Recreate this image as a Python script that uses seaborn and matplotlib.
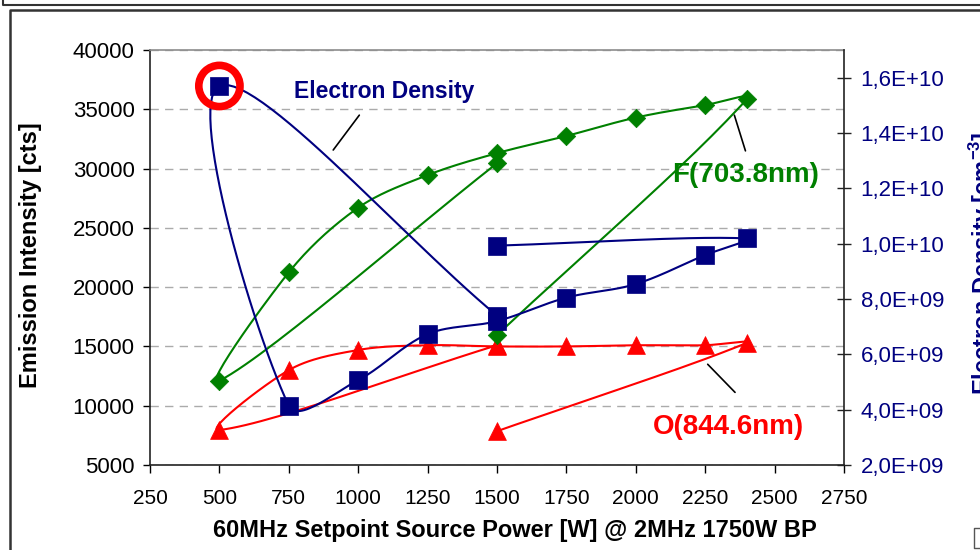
import numpy as np
import pandas as pd
import matplotlib
matplotlib.use("Agg")
import matplotlib.pyplot as plt
from matplotlib.lines import Line2D
import seaborn as sns

# ---------------- data (measurement order of the power sweep) ----------------
power = [1500, 500, 750, 1000, 1250, 1500, 1750, 2000, 2250, 2400, 1500]
f_703 = [30450, 12100, 21250, 26700, 29450, 31300, 32750, 34300, 35350, 35850, 15950]
o_844 = [15100, 7950, 13000, 14700, 15100, 15000, 15000, 15100, 15100, 15300, 7850]
e_dens = [7.4e9, 15.7e9, 4.14e9, 5.07e9, 6.73e9, 7.2e9, 8.05e9, 8.54e9, 9.59e9, 10.19e9, 9.93e9]

x_ticks = [250, 500, 750, 1000, 1250, 1500, 1750, 2000, 2250, 2500, 2750]
y_ticks = [5000, 10000, 15000, 20000, 25000, 30000, 35000, 40000]
e_ticks = [2e9, 4e9, 6e9, 8e9, 1.0e10, 1.2e10, 1.4e10, 1.6e10]

GREEN = "#008000"
RED = "#FF0000"
NAVY = "#000080"

sns.set_theme(style="white")
plt.rcParams["font.family"] = ["Liberation Sans", "DejaVu Sans"]
plt.rcParams["mathtext.fontset"] = "custom"
plt.rcParams["mathtext.rm"] = "Liberation Sans"
plt.rcParams["mathtext.bf"] = "Liberation Sans:bold"

FW, FH = 980, 550
AX_L, AX_R, AX_T, AX_B = 150, 844, 50, 465
W, H = AX_R - AX_L, AX_B - AX_T
XLIM = (250, 2750)
YLIM = (5000, 40000)
ELIM = (2e9, 1.7e10)


def smooth(xs, ys, xlim, ylim, n=30, t=1 / 3):
    """Excel-like smoothed line (chord-weighted cubic Bezier) in screen space."""
    X = (np.asarray(xs, float) - xlim[0]) / (xlim[1] - xlim[0]) * W
    Y = (np.asarray(ys, float) - ylim[0]) / (ylim[1] - ylim[0]) * H
    P = np.column_stack([X, Y])
    N = len(P)
    out = [P[0]]
    s = np.linspace(0, 1, n)[1:, None]
    for i in range(N - 1):
        p0 = P[max(i - 1, 0)]
        p1 = P[i]
        p2 = P[i + 1]
        p3 = P[min(i + 2, N - 1)]
        d01 = np.linalg.norm(p1 - p0)
        d12 = np.linalg.norm(p2 - p1)
        d23 = np.linalg.norm(p3 - p2)
        c1 = p1 + t * (p2 - p0) * (d12 / (d01 + d12) if d01 + d12 > 0 else 0)
        c2 = p2 - t * (p3 - p1) * (d12 / (d12 + d23) if d12 + d23 > 0 else 0)
        seg = ((1 - s) ** 3) * p1 + 3 * ((1 - s) ** 2) * s * c1 + 3 * (1 - s) * s ** 2 * c2 + s ** 3 * p2
        out.extend(seg)
    out = np.array(out)
    xo = out[:, 0] / W * (xlim[1] - xlim[0]) + xlim[0]
    yo = out[:, 1] / H * (ylim[1] - ylim[0]) + ylim[0]
    return xo, yo


fig = plt.figure(figsize=(FW / 100, FH / 100), dpi=100)
fig.patch.set_facecolor("white")
ax = fig.add_axes([AX_L / FW, 1 - AX_B / FH, W / FW, H / FH])
ax.set_facecolor("none")
ax2 = ax.twinx()

ax.set_xlim(*XLIM)
ax.set_ylim(*YLIM)
ax2.set_ylim(*ELIM)

# grid
ax.set_yticks(y_ticks)
ax.yaxis.grid(True, color="#ABABAB", linestyle=(0, (6, 4.5)), linewidth=1.0)
ax.set_axisbelow(True)

# smoothed lines
for yv, col, a, lim in [(f_703, GREEN, ax, YLIM), (o_844, RED, ax, YLIM)]:
    xs, ys = smooth(power, yv, XLIM, lim)
    sns.lineplot(x=xs, y=ys, sort=False, estimator=None, color=col, linewidth=1.5, ax=a, zorder=2)
xs, ys = smooth(power, e_dens, XLIM, ELIM)
sns.lineplot(x=xs, y=ys, sort=False, estimator=None, color=NAVY, linewidth=1.5, ax=ax2, zorder=2)

# markers
sns.scatterplot(x=power, y=f_703, marker="D", s=88, color=GREEN, edgecolor=GREEN, linewidth=0.5, ax=ax, zorder=4)
sns.scatterplot(x=power, y=o_844, marker="^", s=165, color=RED, edgecolor=RED, linewidth=0.5, ax=ax, zorder=3)
sns.scatterplot(x=power, y=e_dens, marker="s", s=155, color=NAVY, edgecolor=NAVY, linewidth=0.5, ax=ax2, zorder=4)

# red highlight circle around the 500 W electron-density point
ax2.scatter([power[1]], [e_dens[1]], s=880, facecolors="none", edgecolors=RED, linewidths=5.5, zorder=5)

# axes styling
ax.set_xticks(x_ticks)
ax.set_xticklabels([str(v) for v in x_ticks])
ax.set_yticklabels([str(v) for v in y_ticks])
ax2.set_yticks(e_ticks)
ax2.set_yticklabels([f"{v:.1E}".replace(".", ",") for v in e_ticks])
ax.set_xlabel("")
ax.set_ylabel("")
ax2.set_ylabel("")

ax.tick_params(axis="x", direction="out", length=6, width=1, pad=11, labelsize=15, colors="black", bottom=True)
ax.tick_params(axis="y", direction="out", length=5, width=1, pad=6, labelsize=16, colors="black", left=True)
ax2.tick_params(axis="y", direction="inout", length=10, width=1, pad=7, labelsize=16, colors="#222222",
                labelcolor=NAVY, right=True)

for a in (ax, ax2):
    for sp in a.spines.values():
        sp.set_visible(False)
ax.spines["left"].set_visible(True)
ax.spines["left"].set_color("#222222")
ax.spines["bottom"].set_visible(True)
ax.spines["bottom"].set_color("#222222")
ax.spines["top"].set_visible(True)
ax.spines["top"].set_color("#8C8C8C")
ax2.spines["right"].set_visible(True)
ax2.spines["right"].set_color("#222222")
for sp in ("left", "bottom", "top"):
    ax.spines[sp].set_linewidth(1.2)
ax2.spines["right"].set_linewidth(1.2)

# annotation texts with leader lines (axes-fraction positions)
ax.text(0.337, 0.899, "Electron Density", transform=ax.transAxes, ha="center", va="center",
        fontsize=16.5, fontweight="bold", color=NAVY)
ax.plot([0.264, 0.3016], [0.759, 0.843], transform=ax.transAxes, color="black", lw=1.2)
ax.text(0.8588, 0.700, "F(703.8nm)", transform=ax.transAxes, ha="center", va="center",
        fontsize=20, fontweight="bold", color=GREEN)
ax.plot([0.842, 0.858], [0.843, 0.757], transform=ax.transAxes, color="black", lw=1.2)
ax.text(0.8329, 0.091, "O(844.6nm)", transform=ax.transAxes, ha="center", va="center",
        fontsize=20, fontweight="bold", color=RED)
ax.plot([0.8036, 0.843], [0.2427, 0.175], transform=ax.transAxes, color="black", lw=1.2)

# axis titles
fig.text(31 / FW, 1 - 255 / FH, "Emission Intensity [cts]", rotation=90, ha="center", va="center",
         fontsize=17, fontweight="bold", color="black")
fig.text(515 / FW, 1 - 531 / FH, "60MHz Setpoint Source Power [W] @ 2MHz 1750W BP", ha="center", va="center",
         fontsize=17, fontweight="bold", color="black")
fig.text(967 / FW, 1 - 263 / FH, r"Electron Density [cm$^{\mathbf{-3}}$]", rotation=90, ha="left", va="center",
         fontsize=17, fontweight="bold", color=NAVY)

# chart frames (Excel chart-area borders)
def fline(xp, yp, **kw):
    fig.add_artist(Line2D([x / FW for x in xp], [1 - y / FH for y in yp], transform=fig.transFigure, **kw))

fline([3, 3, 980], [0, 5, 5], color="#333333", lw=1.5)
fline([10, 10, 980], [550, 10, 10], color="#333333", lw=1.8)
fline([980, 974, 974, 980], [528, 528, 548, 548], color="#555555", lw=1.0)

fig.savefig("out.png", dpi=100, facecolor="white")
